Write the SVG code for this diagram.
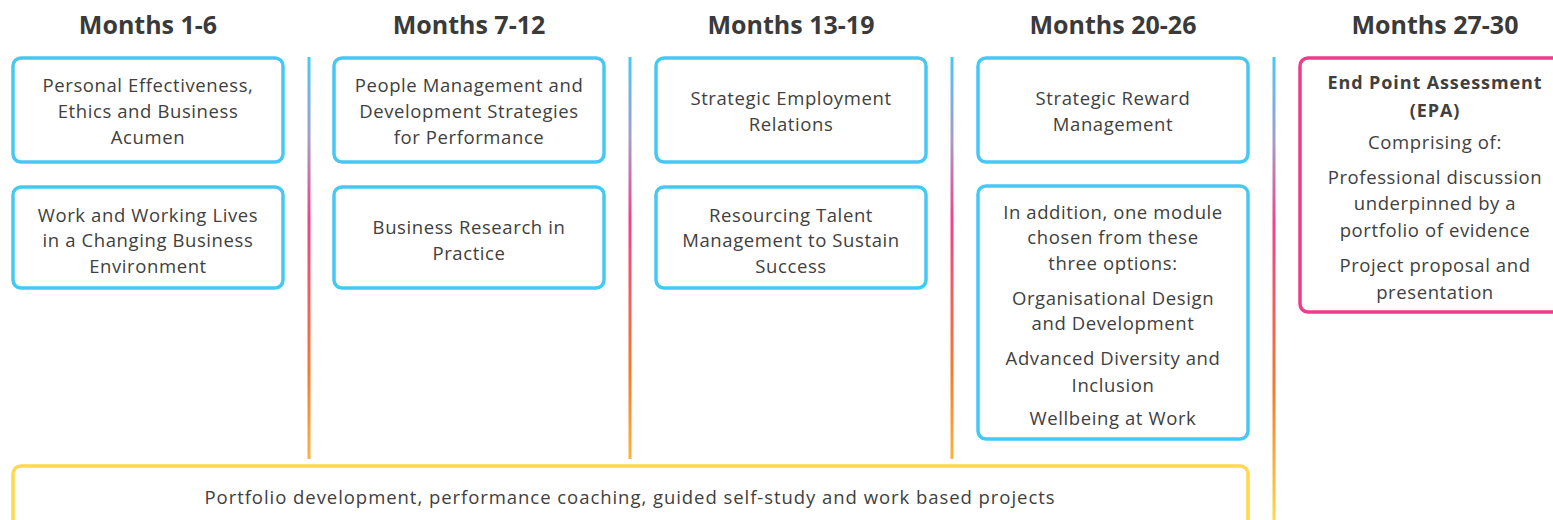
<svg xmlns="http://www.w3.org/2000/svg" width="1553" height="520" viewBox="0 0 1553 520">
<defs>
<linearGradient id="g1" gradientUnits="userSpaceOnUse" x1="0" y1="57" x2="0" y2="460">
<stop offset="0" stop-color="#47c8f5"/>
<stop offset="0.2" stop-color="#a69ccc"/>
<stop offset="0.4" stop-color="#f0428c"/>
<stop offset="0.78" stop-color="#f57a2e"/>
<stop offset="1" stop-color="#fbb33f"/>
</linearGradient>
<linearGradient id="g2" gradientUnits="userSpaceOnUse" x1="0" y1="57" x2="0" y2="520">
<stop offset="0" stop-color="#47c8f5"/>
<stop offset="0.18" stop-color="#a69ccc"/>
<stop offset="0.36" stop-color="#f0428c"/>
<stop offset="0.72" stop-color="#f57a2e"/>
<stop offset="1" stop-color="#ffd94a"/>
</linearGradient>
<style>
.h{font-family:"Open Sans","Liberation Sans",sans-serif;font-weight:700;font-size:25px;fill:#3a3a3a;text-anchor:middle}
.t{font-family:"Open Sans","Liberation Sans",sans-serif;font-size:18.5px;letter-spacing:0.6px;fill:#404040;text-anchor:middle}
.b{font-weight:700;font-size:18px;letter-spacing:0.9px}
.w{letter-spacing:0.95px}
.box{fill:#fff;stroke:#46c8f5;stroke-width:3.5}
.epa{fill:#fff;stroke:#ee3c8b;stroke-width:3.5}
.yel{fill:#fff;stroke:#ffd94a;stroke-width:3.5}
</style>
</defs>
<rect width="1553" height="520" fill="#fff"/>
<g id="headers">
<text class="h" x="148" y="34">Months 1-6</text>
<text class="h" x="469" y="34">Months 7-12</text>
<text class="h" x="791" y="34">Months 13-19</text>
<text class="h" x="1113" y="34">Months 20-26</text>
<text class="h" x="1435" y="34">Months 27-30</text>
</g>
<g id="connectors">
<line x1="309" y1="57" x2="309" y2="459" stroke="url(#g1)" stroke-width="3"/>
<line x1="630" y1="57" x2="630" y2="459" stroke="url(#g1)" stroke-width="3"/>
<line x1="952" y1="57" x2="952" y2="459" stroke="url(#g1)" stroke-width="3"/>
<line x1="1274" y1="57" x2="1274" y2="520" stroke="url(#g2)" stroke-width="3"/>
</g>
<g id="n1a">
<rect class="box" x="13" y="58" width="270" height="104" rx="8"/>
<text class="t" x="148" y="92">Personal Effectiveness,</text>
<text class="t" x="148" y="118">Ethics and Business</text>
<text class="t" x="148" y="144">Acumen</text>
</g>
<g id="n1b">
<rect class="box" x="13" y="187" width="270" height="101" rx="8"/>
<text class="t" x="148" y="222">Work and Working Lives</text>
<text class="t" x="148" y="247">in a Changing Business</text>
<text class="t" x="148" y="273">Environment</text>
</g>
<g id="n2a">
<rect class="box" x="334" y="58" width="270" height="104" rx="8"/>
<text class="t" x="469" y="92">People Management and</text>
<text class="t" x="469" y="118">Development Strategies</text>
<text class="t" x="469" y="144">for Performance</text>
</g>
<g id="n2b">
<rect class="box" x="334" y="187" width="270" height="101" rx="8"/>
<text class="t" x="469" y="234">Business Research in</text>
<text class="t" x="469" y="260">Practice</text>
</g>
<g id="n3a">
<rect class="box" x="656" y="58" width="270" height="104" rx="8"/>
<text class="t" x="791" y="105">Strategic Employment</text>
<text class="t" x="791" y="131">Relations</text>
</g>
<g id="n3b">
<rect class="box" x="656" y="187" width="270" height="101" rx="8"/>
<text class="t" x="791" y="222">Resourcing Talent</text>
<text class="t" x="791" y="247">Management to Sustain</text>
<text class="t" x="791" y="273">Success</text>
</g>
<g id="n4a">
<rect class="box" x="978" y="58" width="270" height="104" rx="8"/>
<text class="t" x="1113" y="105">Strategic Reward</text>
<text class="t" x="1113" y="131">Management</text>
</g>
<g id="n4b">
<rect class="box" x="978" y="186" width="270" height="253" rx="8"/>
<text class="t" x="1113" y="219">In addition, one module</text>
<text class="t" x="1113" y="244">chosen from these</text>
<text class="t" x="1113" y="270">three options:</text>
<text class="t" x="1113" y="305">Organisational Design</text>
<text class="t" x="1113" y="330">and Development</text>
<text class="t" x="1113" y="365">Advanced Diversity and</text>
<text class="t" x="1113" y="392">Inclusion</text>
<text class="t" x="1113" y="425">Wellbeing at Work</text>
</g>
<g id="n5">
<rect class="epa" x="1300" y="58" width="275" height="254" rx="8"/>
<text class="t b" x="1435" y="89">End Point Assessment</text>
<text class="t b" x="1435" y="117">(EPA)</text>
<text class="t" x="1435" y="149">Comprising of:</text>
<text class="t" x="1435" y="184">Professional discussion</text>
<text class="t" x="1435" y="210">underpinned by a</text>
<text class="t" x="1435" y="237">portfolio of evidence</text>
<text class="t" x="1435" y="272">Project proposal and</text>
<text class="t" x="1435" y="299">presentation</text>
</g>
<g id="n6">
<rect class="yel" x="13" y="466" width="1235" height="80" rx="8"/>
<text class="t w" x="630" y="504">Portfolio development, performance coaching, guided self-study and work based projects</text>
</g>
</svg>
